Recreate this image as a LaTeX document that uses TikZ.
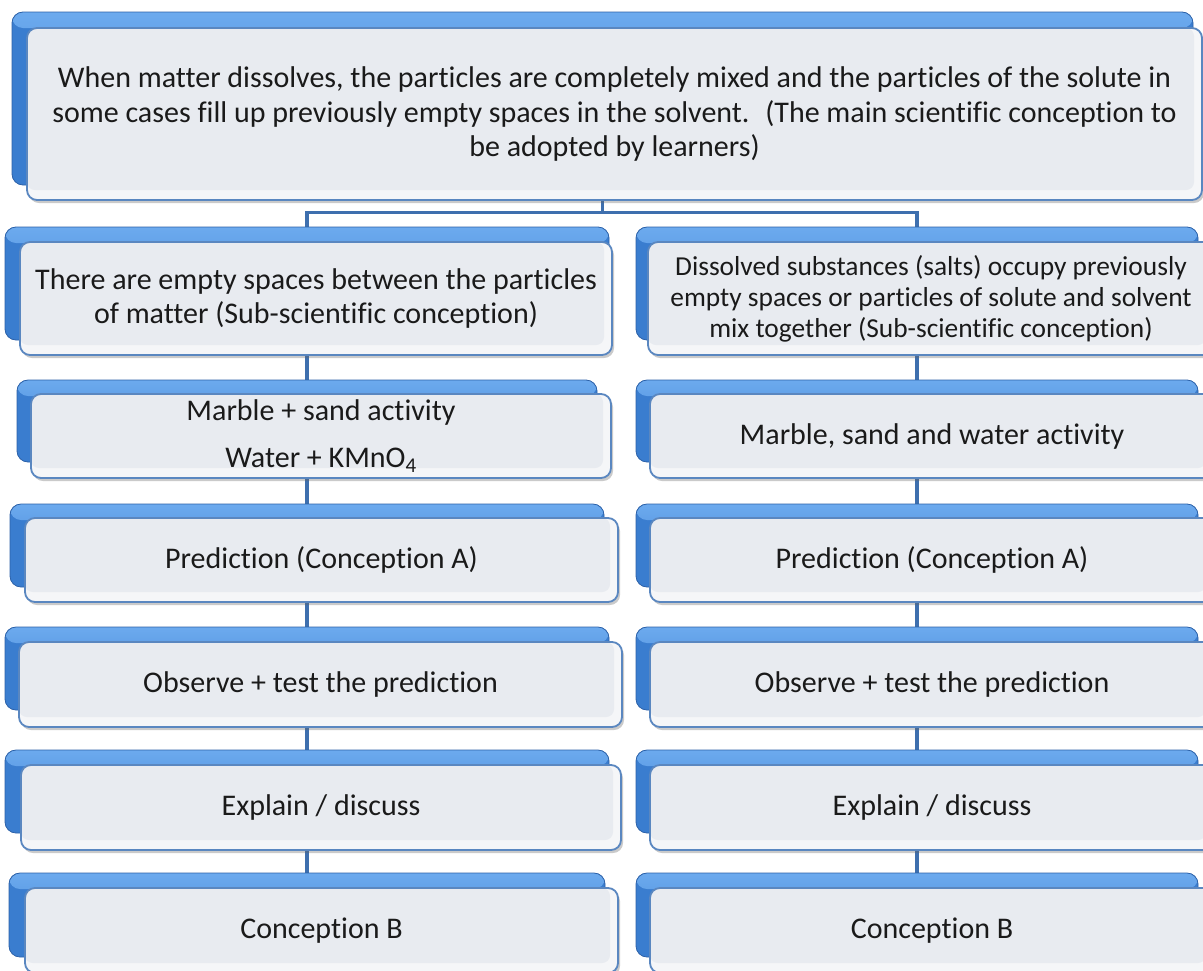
\documentclass[tikz,border=0pt]{standalone}
\usepackage{fontspec}
\setmainfont{Carlito}[Ligatures=NoCommon]
\usetikzlibrary{shadows,backgrounds}
\definecolor{bblue}{HTML}{3A7DCF}
\definecolor{bdark}{HTML}{2C61A8}
\definecolor{bhigh}{HTML}{6CAAEE}
\definecolor{ffill}{HTML}{E8EBF0}
\definecolor{frim}{HTML}{F5F6F8}
\definecolor{fborder}{HTML}{5A87C0}
\definecolor{cline}{HTML}{3E6FAE}
\definecolor{txt}{HTML}{1A1A1A}
\tikzset{
  backbox/.style={rounded corners=11pt, fill=bblue, draw=bdark, line width=0.8pt, inner sep=0pt,
    path picture={\shade[top color=bhigh, bottom color=bblue]
      (path picture bounding box.north west) rectangle ([yshift=-16pt]path picture bounding box.north east);}},
  frontbox/.style={rounded corners=10pt, fill=frim, draw=fborder, line width=1.8pt, inner sep=0pt,
    align=center, font=\fontsize{30}{34.5}\selectfont, text=txt,
    drop shadow={shadow xshift=2pt, shadow yshift=-3pt, opacity=0.35, fill=black!60},
    path picture={\fill[ffill, rounded corners=8pt]
      ([yshift=10pt]path picture bounding box.south west) rectangle ([xshift=-8pt]path picture bounding box.north east);}},
  smalltext/.style={font=\fontsize{27.4}{31}\selectfont},
  conn/.style={draw=cline, line width=3.2pt},
}
\newcommand\mkback[5]{%
  \pgfmathsetmacro\bxc{(#2+#4)/2}\pgfmathsetmacro\byc{(#3+#5)/2}%
  \pgfmathsetmacro\bw{#4-#2}\pgfmathsetmacro\bh{#5-#3}%
  \node[backbox, minimum width=\bw pt, minimum height=\bh pt] (#1) at (\bxc,\byc) {};}
\newcommand\mkfront[7]{%
  \pgfmathsetmacro\bxc{(#2+#4)/2}\pgfmathsetmacro\byc{(#3+#5)/2}%
  \pgfmathsetmacro\bw{#4-#2}\pgfmathsetmacro\bh{#5-#3}%
  \node[frontbox, #6, minimum width=\bw pt, minimum height=\bh pt] (#1) at (\bxc,\byc) {#7};}
\begin{document}
\begin{tikzpicture}[x=1pt, y=-1pt]
\useasboundingbox (0,0) rectangle (1203,970);
\clip (0,0) rectangle (1203,970);
% top
\mkback{tb}{12}{12}{1193}{185}
\mkfront{t}{27}{28}{1202}{200}{}{When matter dissolves, the particles are completely mixed and the particles of the solute in\\some cases fill up previously empty spaces in the solvent.~ (The main scientific conception to\\be adopted by learners)}
% row 2
\mkback{l2b}{5}{227}{609}{340}
\mkfront{l2}{20}{242}{612}{355}{}{There are empty spaces between the particles\\of matter (Sub-scientific conception)}
\mkback{r2b}{636}{227}{1198}{340}
\mkfront{r2}{648}{242}{1214}{355}{smalltext}{Dissolved substances (salts) occupy previously\\empty spaces or particles of solute and solvent\\mix together (Sub-scientific conception)}
% row 3
\mkback{l3b}{17}{380}{597}{462}
\mkfront{l3}{31}{394}{611}{478}{}{Marble + sand activity\\[13pt]Water + KMnO\textsubscript{4}}
\mkback{r3b}{636}{380}{1198}{462}
\mkfront{r3}{650}{394}{1214}{478}{}{Marble, sand and water activity}
% row 4
\mkback{l4b}{10}{504}{604}{587}
\mkfront{l4}{25}{518}{618}{602}{}{Prediction (Conception A)}
\mkback{r4b}{636}{504}{1198}{587}
\mkfront{r4}{650}{518}{1214}{602}{}{Prediction (Conception A)}
% row 5
\mkback{l5b}{5}{627}{609}{710}
\mkfront{l5}{19}{642}{622}{727}{}{Observe + test the prediction}
\mkback{r5b}{636}{627}{1198}{710}
\mkfront{r5}{650}{642}{1214}{727}{}{Observe + test the prediction}
% row 6
\mkback{l6b}{5}{750}{609}{833}
\mkfront{l6}{21}{765}{621}{850}{}{Explain / discuss}
\mkback{r6b}{636}{750}{1198}{833}
\mkfront{r6}{650}{765}{1214}{850}{}{Explain / discuss}
% row 7
\mkback{l7b}{9}{873}{605}{957}
\mkfront{l7}{25}{888}{618}{973}{}{Conception B}
\mkback{r7b}{636}{873}{1198}{957}
\mkfront{r7}{650}{888}{1214}{973}{}{Conception B}
% connectors
\begin{scope}[on background layer]
\coordinate (j) at ([yshift=-27pt]tb.south);
\draw[conn] (tb.south) -- (j);
\draw[conn] (l2b.north) |- (j) -| (r2b.north);
\draw[conn] (l2b.south) -- (l3b.north);
\draw[conn] (l3b.south) -- (l4b.north);
\draw[conn] (l4b.south) -- (l5b.north);
\draw[conn] (l5b.south) -- (l6b.north);
\draw[conn] (l6b.south) -- (l7b.north);
\draw[conn] (r2b.south) -- (r3b.north);
\draw[conn] (r3b.south) -- (r4b.north);
\draw[conn] (r4b.south) -- (r5b.north);
\draw[conn] (r5b.south) -- (r6b.north);
\draw[conn] (r6b.south) -- (r7b.north);
\end{scope}
\end{tikzpicture}
\end{document}
